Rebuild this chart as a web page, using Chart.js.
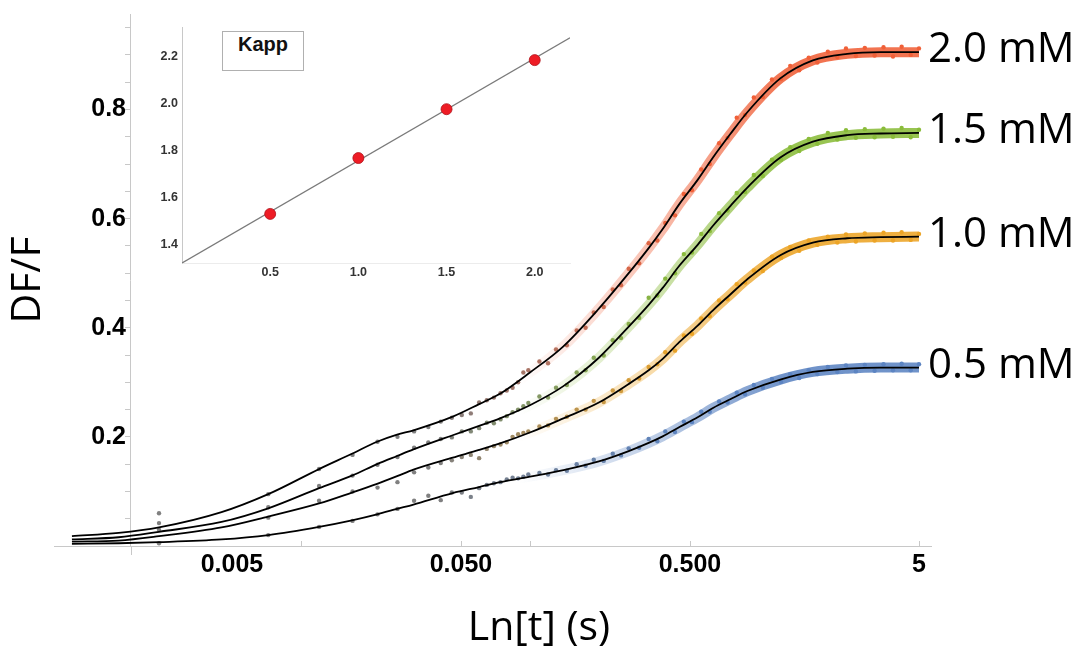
<!DOCTYPE html>
<html><head><meta charset="utf-8">
<script src="https://cdn.jsdelivr.net/npm/chart.js@4.4.1/dist/chart.umd.min.js"></script>
<style>
html,body{margin:0;padding:0;background:#fff;}
#wrap{position:relative;width:1086px;height:653px;overflow:hidden;background:#fff;}
#main{position:absolute;left:0;top:0;}
#inset{position:absolute;left:0;top:0;}
#kapp{position:absolute;left:222px;top:31px;width:82px;height:40px;border:1px solid #b0b0b0;background:#fff;box-sizing:border-box;
 font:bold 20px "Liberation Sans",Arial,sans-serif;line-height:24px;color:#111;text-align:center;padding-top:0px;}
</style></head>
<body><div id="wrap">
<canvas id="main" width="1086" height="653"></canvas>
<canvas id="inset" width="600" height="300"></canvas>
<div id="kapp">Kapp</div>
</div>
<script>
// ---------------- data ----------------
const seriesLabels = ['2.0 mM', '1.5 mM', '1.0 mM', '0.5 mM'];
const xTitle = 'Ln[t] (s)';
const yTitle = 'DF/F';
const xTickValues = [0.005, 0.05, 0.5, 5];
const xTickLabels = ['0.005', '0.050', '0.500', '5'];
const xTickMarks = [0.01, 0.05, 0.1, 0.5, 5];
const yTickValues = [0.05,0.1,0.15,0.2,0.25,0.3,0.35,0.4,0.45,0.5,0.55,0.6,0.65,0.7,0.75,0.8,0.85,0.9,0.95];
const yMajorValues = [0.2, 0.4, 0.6, 0.8];
const yMajorLabels = ['0.2', '0.4', '0.6', '0.8'];

// fitted curves (time in s)
const timeFit = [0.001,0.0016,0.0024,0.0045,0.0072,0.012,0.0167,0.0215,0.0263,0.031,0.046,0.06,0.074,0.1,0.14,0.2,0.27,0.33,0.38,0.45,0.54,0.63,0.75,0.89,1.24,1.72,2.43,3.4,5];
const fit20 = [0.018,0.024,0.034,0.062,0.095,0.141,0.169,0.191,0.204,0.212,0.237,0.26,0.279,0.318,0.366,0.435,0.50,0.546,0.581,0.627,0.671,0.712,0.755,0.795,0.857,0.89,0.902,0.905,0.905];
const fit15 = [0.012,0.016,0.026,0.044,0.069,0.106,0.129,0.150,0.165,0.177,0.203,0.22,0.234,0.258,0.293,0.345,0.402,0.442,0.473,0.514,0.552,0.587,0.623,0.657,0.712,0.741,0.753,0.756,0.757];
const fit10 = [0.008,0.010,0.018,0.034,0.054,0.078,0.098,0.114,0.128,0.140,0.162,0.176,0.188,0.208,0.234,0.263,0.297,0.322,0.343,0.374,0.404,0.432,0.461,0.489,0.533,0.556,0.564,0.566,0.567];
const fit05 = [0.004,0.005,0.007,0.012,0.020,0.035,0.047,0.058,0.068,0.076,0.097,0.108,0.117,0.127,0.139,0.155,0.174,0.189,0.201,0.218,0.236,0.253,0.269,0.284,0.305,0.319,0.325,0.327,0.327];

// measured points
const timeObs = [0.0024,0.0072,0.012,0.0168,0.0216,0.0264,0.0312,0.036,0.0408,0.0456,0.0504,0.0552,0.06,0.0648,0.0696,0.0744,0.0792,0.084,0.0888,0.0936,0.0984,
 0.11,0.12,0.13,0.145,0.16,0.175,0.19,0.21,0.23,0.25,0.27,0.30,0.33,0.36,0.39,0.43,0.47,0.51,0.56,0.61,0.67,0.73,0.80,0.87,0.95,1.04,1.14,1.25,1.37,1.5,1.65,1.8,2.0,2.2,2.4,2.65,2.9,3.2,3.5,3.85,4.2,4.6,5.0];
const obs20 = [0.06,0.095,0.141,0.167,0.191,0.2,0.21,0.218,0.228,0.235,0.24,0.243,0.263,0.267,0.272,0.28,0.285,0.29,0.30,0.318,0.322,
 0.338,0.335,0.36,0.368,0.395,0.40,0.428,0.438,0.47,0.478,0.508,0.518,0.555,0.56,0.592,0.606,0.645,0.652,0.69,0.70,0.738,0.748,0.785,0.79,0.822,0.823,0.855,0.856,0.88,0.872,0.895,0.886,0.906,0.896,0.912,0.898,0.913,0.899,0.914,0.897,0.915,0.9,0.912];
const obs15 = [0.042,0.071,0.11,0.129,0.149,0.163,0.18,0.19,0.196,0.199,0.21,0.21,0.216,0.226,0.225,0.232,0.238,0.245,0.25,0.256,0.262,
 0.274,0.272,0.29,0.295,0.318,0.322,0.345,0.349,0.377,0.381,0.407,0.418,0.455,0.459,0.49,0.5,0.535,0.538,0.572,0.577,0.61,0.615,0.647,0.649,0.68,0.678,0.708,0.708,0.731,0.724,0.746,0.737,0.757,0.745,0.762,0.748,0.764,0.749,0.765,0.75,0.766,0.749,0.763];
const obs10 = [0.03,0.052,0.083,0.1,0.107,0.117,0.135,0.144,0.152,0.157,0.163,0.167,0.161,0.178,0.183,0.186,0.19,0.2,0.205,0.207,0.21,
 0.219,0.221,0.233,0.237,0.25,0.25,0.266,0.264,0.285,0.284,0.304,0.307,0.328,0.333,0.355,0.358,0.386,0.389,0.417,0.421,0.45,0.452,0.48,0.483,0.505,0.504,0.53,0.528,0.548,0.541,0.56,0.552,0.567,0.556,0.571,0.558,0.573,0.56,0.574,0.56,0.575,0.561,0.572];
const obs05 = [0.005,0.02,0.035,0.046,0.058,0.068,0.083,0.092,0.084,0.098,0.098,0.09,0.106,0.112,0.115,0.117,0.122,0.125,0.124,0.127,0.131,
 0.134,0.131,0.139,0.138,0.15,0.147,0.158,0.156,0.169,0.166,0.179,0.18,0.196,0.192,0.21,0.209,0.228,0.227,0.246,0.246,0.265,0.263,0.281,0.278,0.295,0.29,0.306,0.301,0.315,0.308,0.322,0.315,0.328,0.319,0.331,0.32,0.332,0.321,0.333,0.322,0.334,0.322,0.333];

// inset (Kapp vs concentration)
const concentrations = [0.5, 1.0, 1.5, 2.0];
const kappValues = [1.529, 1.767, 1.975, 2.184];
const kappFitX = [0, 2.2];
const kappFitY = [1.32, 2.279];
const insetXTicks = [0.5, 1.0, 1.5, 2.0];
const insetXLabels = ['0.5', '1.0', '1.5', '2.0'];
const insetYTicks = [1.4, 1.6, 1.8, 2.0, 2.2];
const insetYLabels = ['1.4', '1.6', '1.8', '2.0', '2.2'];

// ---------------- styling ----------------
const seriesRGB = ['240,96,56', '138,188,58', '236,164,38', '92,132,194'];
const fits = [fit20, fit15, fit10, fit05];
const obs = [obs20, obs15, obs10, obs05];
const pts = (xs, ys) => xs.map((x, i) => ({x: x, y: ys[i]}));

function pointColor(rgb) {
  const c = rgb.split(',').map(Number);
  return (ctx) => {
    const t = ctx.raw ? ctx.raw.x : 1;
    let f = Math.log10(t / 0.04) / Math.log10(12);
    f = Math.max(0, Math.min(1, f));
    const g = [128, 128, 128];
    const m = c.map((v, i) => Math.round(g[i] + (v - g[i]) * f));
    return 'rgb(' + m.join(',') + ')';
  };
}
function bandColor(rgb) {
  return (ctx) => {
    const chart = ctx.chart, xs = chart.scales.x;
    if (!chart.chartArea || !xs) return 'rgba(0,0,0,0)';
    const x0 = xs.getPixelForValue(0.09), x1 = xs.getPixelForValue(0.35), x2 = xs.getPixelForValue(1.3);
    const g = chart.ctx.createLinearGradient(x0, 0, x2, 0);
    g.addColorStop(0, 'rgba(' + rgb + ',0)');
    g.addColorStop((x1 - x0) / (x2 - x0), 'rgba(' + rgb + ',0.4)');
    g.addColorStop(1, 'rgba(' + rgb + ',0.88)');
    return g;
  };
}

const datasets = [];
for (let i = 0; i < 4; i++) {
  datasets.push({label: seriesLabels[i] + ' fit', data: pts(timeFit, fits[i]), showLine: true, borderColor: '#000', borderWidth: 1.8,
    pointRadius: 0, cubicInterpolationMode: 'monotone', order: 1, yAxisID: 'y', xAxisID: 'x'});
  datasets.push({label: seriesLabels[i], data: pts(timeObs, obs[i]), showLine: false, pointRadius: 2.2, pointBorderWidth: 0,
    pointBackgroundColor: pointColor(seriesRGB[i]), order: 2, yAxisID: 'y', xAxisID: 'x'});
  datasets.push({label: seriesLabels[i] + ' band', data: pts(timeFit, fits[i]), showLine: true, borderColor: bandColor(seriesRGB[i]),
    borderWidth: 10, pointRadius: 0, cubicInterpolationMode: 'monotone', order: 3, yAxisID: 'y', xAxisID: 'x'});
}

const zeroPad = (s) => { s.paddingTop = 0; s.paddingBottom = 0; s.paddingLeft = 0; s.paddingRight = 0; };
const tickFont = {family: 'Liberation Sans', weight: 'bold', size: 25};
const yAxisAt = 0.001811;

const decor = {
  id: 'decor',
  afterDraw(chart) {
    const c = chart.ctx, xs = chart.scales.x, ys = chart.scales.y;
    const base = ys.getPixelForValue(0);
    c.save();
    c.strokeStyle = '#c8c8c8'; c.lineWidth = 1;
    xTickMarks.forEach(v => { const p = Math.round(xs.getPixelForValue(v)) + 0.5; c.beginPath(); c.moveTo(p, base); c.lineTo(p, base - 5); c.stroke(); });
    const ax = Math.round(xs.getPixelForValue(yAxisAt)) + 0.5;
    c.beginPath(); c.moveTo(ax, base); c.lineTo(ax, base + 9); c.stroke();
    c.fillStyle = '#000'; c.font = '42px "Open Sans"'; c.textAlign = 'left'; c.textBaseline = 'middle';
    for (let i = 0; i < 4; i++) {
      const f = fits[i];
      c.fillText(seriesLabels[i], xs.right - 3, ys.getPixelForValue(f[f.length - 1]) - 2);
    }
    c.restore();
  }
};

new Chart(document.getElementById('main'), {
  type: 'scatter',
  data: {datasets: datasets},
  plugins: [decor],
  options: {
    responsive: false, animation: false,
    layout: {padding: {top: 14, left: 0, right: 8, bottom: 0}},
    plugins: {legend: {display: false}, tooltip: {enabled: false},
      title: {display: true, position: 'bottom', text: xTitle, color: '#000', font: {family: 'Open Sans', size: 41, weight: 'normal'}, padding: {top: 0, bottom: 0}}},
    scales: {
      x: {type: 'logarithmic', position: 'bottom', min: 0.000835, max: 5.642,
        afterBuildTicks: (s) => { s.ticks = xTickValues.map(v => ({value: v})); },
        ticks: {autoSkip: false, maxRotation: 0, padding: -4, color: '#000', font: tickFont,
          callback: (v) => { const k = xTickValues.findIndex(t => Math.abs(t - v) / t < 1e-6); return k < 0 ? '' : xTickLabels[k]; }},
        grid: {display: false}, border: {display: true, color: '#c8c8c8', width: 1},
        afterFit: (s) => { s.height = 653 - 49.2 - 546; zeroPad(s); }},
      y: {type: 'linear', axis: 'y', position: {x: yAxisAt}, min: 0, max: 0.975,
        afterBuildTicks: (s) => { s.ticks = yTickValues.map(v => ({value: v})); },
        ticks: {autoSkip: false, color: '#000', font: tickFont, padding: 0,
          callback: (v) => { const k = yMajorValues.findIndex(t => Math.abs(t - v) < 1e-6); return k < 0 ? '' : yMajorLabels[k] + '\u2009'; }},
        grid: {drawOnChartArea: false, drawTicks: true, tickLength: 5, color: '#c8c8c8'},
        border: {display: true, color: '#c8c8c8', width: 1},
        afterFit: zeroPad},
      yPadL: {type: 'linear', axis: 'y', position: 'left', display: true,
        grid: {display: false}, border: {display: false}, ticks: {display: false},
        title: {display: true, text: yTitle, color: '#000', font: {family: 'Open Sans', size: 41}, padding: {top: 4, bottom: 0}},
        afterFit: (s) => { s.width = 54; zeroPad(s); }},
      yPadR: {type: 'linear', axis: 'y', position: 'right', display: true,
        grid: {display: false}, border: {display: false}, ticks: {display: false},
        afterFit: (s) => { s.width = 147; zeroPad(s); }}
    }
  }
});

const insetFont = {family: 'Liberation Sans', weight: 'bold', size: 12.5};
new Chart(document.getElementById('inset'), {
  type: 'scatter',
  data: {datasets: [
    {label: 'Kapp fit', data: pts(kappFitX, kappFitY), showLine: true, borderColor: '#7a7a7a', borderWidth: 1.3, pointRadius: 0, order: 2},
    {label: 'Kapp', data: pts(concentrations, kappValues), pointRadius: 5.5, pointBackgroundColor: '#ee1c25', pointBorderColor: '#b0121b', pointBorderWidth: 0.8, order: 1}
  ]},
  options: {
    responsive: false, animation: false,
    layout: {padding: {left: 0, top: 27, right: 30, bottom: 7}},
    plugins: {legend: {display: false}, tooltip: {enabled: false}},
    scales: {
      x: {type: 'linear', min: 0, max: 2.2,
        afterBuildTicks: (s) => { s.ticks = insetXTicks.map(v => ({value: v})); },
        ticks: {autoSkip: false, maxRotation: 0, padding: 2, color: '#333', font: insetFont,
          callback: (v) => { const k = insetXTicks.findIndex(t => Math.abs(t - v) < 1e-6); return k < 0 ? '' : insetXLabels[k]; }},
        grid: {display: false, drawTicks: false}, border: {display: true, color: '#ececec'},
        afterFit: (s) => { s.height = 30; zeroPad(s); }},
      y: {type: 'linear', min: 1.32, max: 2.325,
        afterBuildTicks: (s) => { s.ticks = insetYTicks.map(v => ({value: v})); },
        ticks: {autoSkip: false, padding: 4, color: '#333', font: insetFont,
          callback: (v) => { const k = insetYTicks.findIndex(t => Math.abs(t - v) < 1e-6); return k < 0 ? '' : insetYLabels[k]; }},
        grid: {display: false, drawTicks: false}, border: {display: true, color: '#c8c8c8'},
        afterFit: (s) => { s.width = 182; zeroPad(s); }}
    }
  }
});
</script>
</body></html>
